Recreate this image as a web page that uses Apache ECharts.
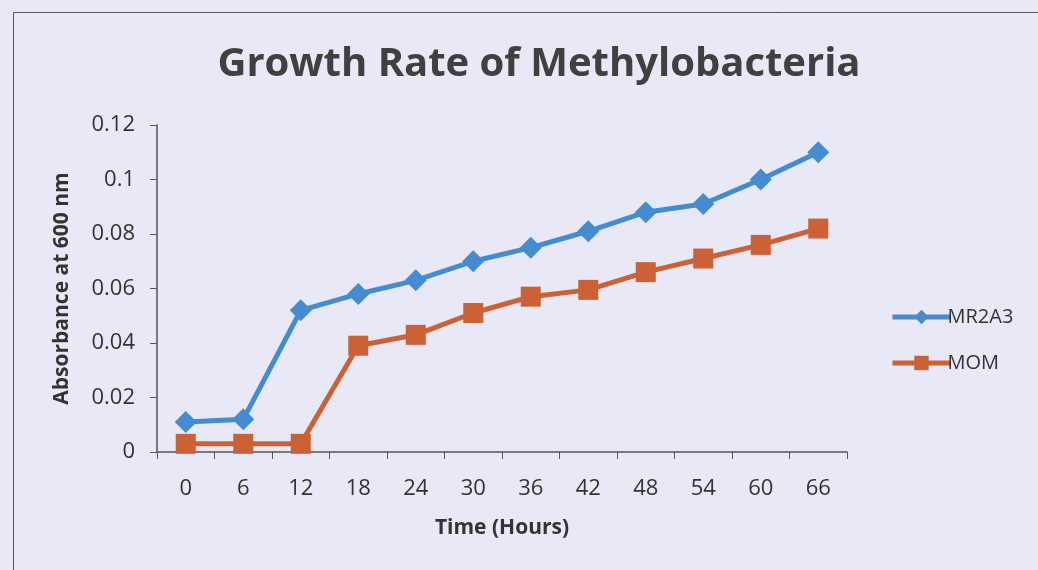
<!DOCTYPE html>
<html><head><meta charset="utf-8">
<script src="https://cdn.jsdelivr.net/npm/echarts@6/dist/echarts.min.js"></script>
<style>html,body{margin:0;padding:0;background:#e8e8f7;}#c{width:1038px;height:570px;}</style>
</head><body><div id="c"></div>
<script>
const categories = ['0','6','12','18','24','30','36','42','48','54','60','66'];
const mr2a3 = [0.011,0.012,0.052,0.058,0.063,0.070,0.075,0.081,0.088,0.091,0.100,0.110];
const mom = [0.003,0.003,0.003,0.039,0.043,0.051,0.057,0.0595,0.066,0.071,0.076,0.082];
const seriesNames = ['MR2A3','MOM'];

const chart = echarts.init(document.getElementById('c'));
const font = '"Open Sans", "Noto Sans", sans-serif';
chart.setOption({
  backgroundColor: '#e8e8f7',
  animation: false,
  textStyle: {fontFamily: font},
  graphic: [{type:'rect', shape:{x:13.5,y:12.5,width:1040,height:570}, style:{fill:'none', stroke:'#555', lineWidth:1}, silent:true}],
  title: {text:'Growth Rate of Methylobacteria', left: 534, top: 40, textAlign:'center',
    textStyle:{fontFamily:font, fontSize:40, fontWeight:'bold', color:'#404040'}},
  legend: {orient:'vertical', left: 885, top: 302, itemGap: 26, itemWidth: 58, itemHeight: 18,
    lineStyle:{width:5},
    textStyle:{fontFamily:font, fontSize:20, color:'#333', padding:[0,0,0,-8]},
    data: [{name:seriesNames[0], itemStyle:{}}, {name:seriesNames[1]}]},
  grid: {left:157, right:191, top:125, bottom:118},
  xAxis: {type:'category', data: categories, boundaryGap:true,
    name:'Time (Hours)', nameLocation:'middle', nameGap:66,
    nameTextStyle:{fontFamily:font, fontSize:21, fontWeight:'bold', color:'#333'},
    axisLine:{lineStyle:{color:'#555', width:1.5}},
    axisTick:{show:true, length:7, alignWithLabel:false, lineStyle:{color:'#555'}},
    axisLabel:{fontSize:22, color:'#333', margin:26}},
  yAxis: {type:'value', min:0, max:0.12, interval:0.02,
    name:'Absorbance at 600 nm', nameLocation:'middle', nameGap:84,
    nameTextStyle:{fontFamily:font, fontSize:21, fontWeight:'bold', color:'#333'},
    axisLine:{show:true, lineStyle:{color:'#555', width:1.5}},
    axisTick:{show:true, length:7, lineStyle:{color:'#555'}},
    splitLine:{show:false},
    axisLabel:{fontSize:22, color:'#333', margin:22, formatter: v => String(+v.toFixed(2))}},
  series: [
    {name:seriesNames[0], type:'line', data: mr2a3, symbol:'diamond', symbolSize:22,
      itemStyle:{color:'#448cd2'}, lineStyle:{width:5, color:'#448cd2'}},
    {name:seriesNames[1], type:'line', data: mom, symbol:'rect', symbolSize:20,
      itemStyle:{color:'#cd6136'}, lineStyle:{width:5, color:'#cd6136'}}
  ]
});
</script></body></html>
